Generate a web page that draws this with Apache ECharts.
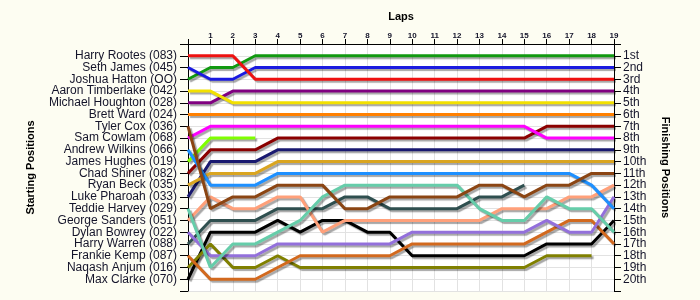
<!DOCTYPE html>
<html><head><meta charset="utf-8">
<script src="https://cdn.jsdelivr.net/npm/echarts@6/dist/echarts.min.js"></script>
<style>html,body{margin:0;padding:0;background:#fdfdf2}#c{width:700px;height:300px}</style>
</head><body><div id="c"></div>
<script>
const laps = [0,1,2,3,4,5,6,7,8,9,10,11,12,13,14,15,16,17,18,19];
const startNames = ["Harry Rootes (083)","Seth James (045)","Joshua Hatton (OO)","Aaron Timberlake (042)","Michael Houghton (028)","Brett Ward (024)","Tyler Cox (036)","Sam Cowlam (068)","Andrew Wilkins (066)","James Hughes (019)","Chad Shiner (082)","Ryan Beck (035)","Luke Pharoah (033)","Teddie Harvey (029)","George Sanders (051)","Dylan Bowrey (022)","Harry Warren (088)","Frankie Kemp (087)","Naqash Anjum (016)","Max Clarke (070)"];
const finishLabels = ["1st","2nd","3rd","4th","5th","6th","7th","8th","9th","10th","11th","12th","13th","14th","15th","16th","17th","18th","19th","20th"];
const colors = ["#ee1111","#1a1ae0","#119911","#f2e000","#800080","#ff8000","#8b4513","#ff00ff","#1e90ff","#7fff00","#8b0000","#daa520","#191970","#66cdaa","#ffa07a","#9370db","#2f4f4f","#d2691e","#808000","#000000"];

const posRed        = [1,1,1,3,3,3,3,3,3,3,3,3,3,3,3,3,3,3,3,3];
const posBlue       = [2,3,3,2,2,2,2,2,2,2,2,2,2,2,2,2,2,2,2,2];
const posGreen      = [3,2,2,1,1,1,1,1,1,1,1,1,1,1,1,1,1,1,1,1];
const posYellow     = [4,4,5,5,5,5,5,5,5,5,5,5,5,5,5,5,5,5,5,5];
const posPurple     = [5,5,4,4,4,4,4,4,4,4,4,4,4,4,4,4,4,4,4,4];
const posOrange     = [6,6,6,6,6,6,6,6,6,6,6,6,6,6,6,6,6,6,6,6];
const posBrown      = [7,14,13,13,12,12,12,14,14,13,13,13,13,12,12,13,12,12,11,11];
const posMagenta    = [8,7,7,7,7,7,7,7,7,7,7,7,7,7,7,7,8,8,8,8];
const posDodger     = [9,12,12,12,11,11,11,11,11,11,11,11,11,11,11,11,11,11,12,14];
const posLime       = [10,8,8,8,null,null,null,null,null,null,null,null,null,null,null,null,null,null,null,null];
const posDarkRed    = [11,9,9,9,8,8,8,8,8,8,8,8,8,8,8,8,7,7,7,7];
const posGold       = [12,11,11,11,10,10,10,10,10,10,10,10,10,10,10,10,10,10,10,10];
const posNavy       = [13,10,10,10,9,9,9,9,9,9,9,9,9,9,9,9,9,9,9,9];
const posAqua       = [14,19,17,17,16,15,13,12,12,12,12,12,12,14,15,15,13,14,14,16];
const posSalmon     = [15,13,14,14,13,13,16,15,15,15,15,15,15,15,14,14,14,13,13,12];
const posMedPurple  = [16,18,18,18,17,17,17,17,17,17,16,16,16,16,16,16,15,16,16,13];
const posSlate      = [17,15,15,15,14,14,14,13,13,14,14,14,14,13,13,12,null,null,null,null];
const posChocolate  = [18,20,20,20,19,18,18,18,18,18,17,17,17,17,17,17,16,15,15,17];
const posOlive      = [19,17,19,19,18,19,19,19,19,19,19,19,19,19,19,19,18,18,18,null];
const posBlack      = [20,16,16,16,15,16,15,15,16,16,18,18,18,18,18,18,17,17,17,15];

const drivers = [posRed,posBlue,posGreen,posYellow,posPurple,posOrange,posBrown,posMagenta,posDodger,posLime,posDarkRed,posGold,posNavy,posAqua,posSalmon,posMedPurple,posSlate,posChocolate,posOlive,posBlack];

const series = drivers.map((arr, i) => ({
  type: 'line',
  data: arr.map((p, k) => [laps[k], p]).filter(d => d[1] !== null),
  symbol: 'none',
  z: 3 + (drivers.length - i) * 0.01,
  lineStyle: {color: colors[i], width: 3, shadowColor: 'rgba(0,0,0,0.35)', shadowOffsetX: 2, shadowOffsetY: 2, shadowBlur: 1},
  animation: false
}));

const chart = echarts.init(document.getElementById('c'), null, {renderer: 'canvas'});
const lblFont = {fontFamily: '"Liberation Sans Narrow", "Liberation Sans", Arial, sans-serif', fontSize: 12, color: '#14142a'};
chart.setOption({
  backgroundColor: '#fdfdf2',
  animation: false,
  grid: {left: 188, right: 86, top: 44, bottom: 9, show: true, backgroundColor: '#ffffff', borderWidth: 0},
  xAxis: {
    type: 'value', position: 'top', min: 0, max: 19, interval: 1,
    name: 'Laps', nameLocation: 'middle', nameGap: 22,
    nameTextStyle: {fontFamily: 'Liberation Sans, Arial, sans-serif', fontSize: 11, fontWeight: 'bold', color: '#000'},
    axisLine: {lineStyle: {color: '#000', width: 1}},
    axisTick: {show: true, length: 5, lineStyle: {color: '#000'}},
    axisLabel: {margin: 4, fontFamily: 'Liberation Sans, Arial, sans-serif', fontSize: 8, fontWeight: 'bold', color: '#14142a',
      formatter: v => v === 0 ? '' : String(v)},
    splitLine: {show: true, lineStyle: {color: '#e2e2e2', width: 1}}
  },
  yAxis: [{
    type: 'value', position: 'left', min: 0, max: 21, interval: 1, inverse: true,
    name: 'Starting Positions', nameLocation: 'middle', nameGap: 152,
    nameTextStyle: {fontFamily: 'Liberation Sans, Arial, sans-serif', fontSize: 11, fontWeight: 'bold', color: '#000'},
    axisLine: {show: true, lineStyle: {color: '#000', width: 1}},
    axisTick: {show: true, length: 8, lineStyle: {color: '#000'}},
    axisLabel: Object.assign({margin: 11, formatter: v => (v >= 1 && v <= 20) ? startNames[v - 1] : ''}, lblFont),
    splitLine: {show: true, lineStyle: {color: '#e2e2e2', width: 1}}
  }, {
    type: 'value', position: 'right', min: 0, max: 21, interval: 1, inverse: true,
    name: 'Finishing Positions', nameLocation: 'middle', nameGap: 46, nameRotate: -90,
    nameTextStyle: {fontFamily: 'Liberation Sans, Arial, sans-serif', fontSize: 11, fontWeight: 'bold', color: '#000'},
    axisLine: {show: true, lineStyle: {color: '#000', width: 1}},
    axisTick: {show: true, length: 7, lineStyle: {color: '#000'}},
    axisLabel: Object.assign({margin: 9, formatter: v => (v >= 1 && v <= 20) ? finishLabels[v - 1] : ''}, lblFont),
    splitLine: {show: false}
  }],
  series: series
});
</script></body></html>
